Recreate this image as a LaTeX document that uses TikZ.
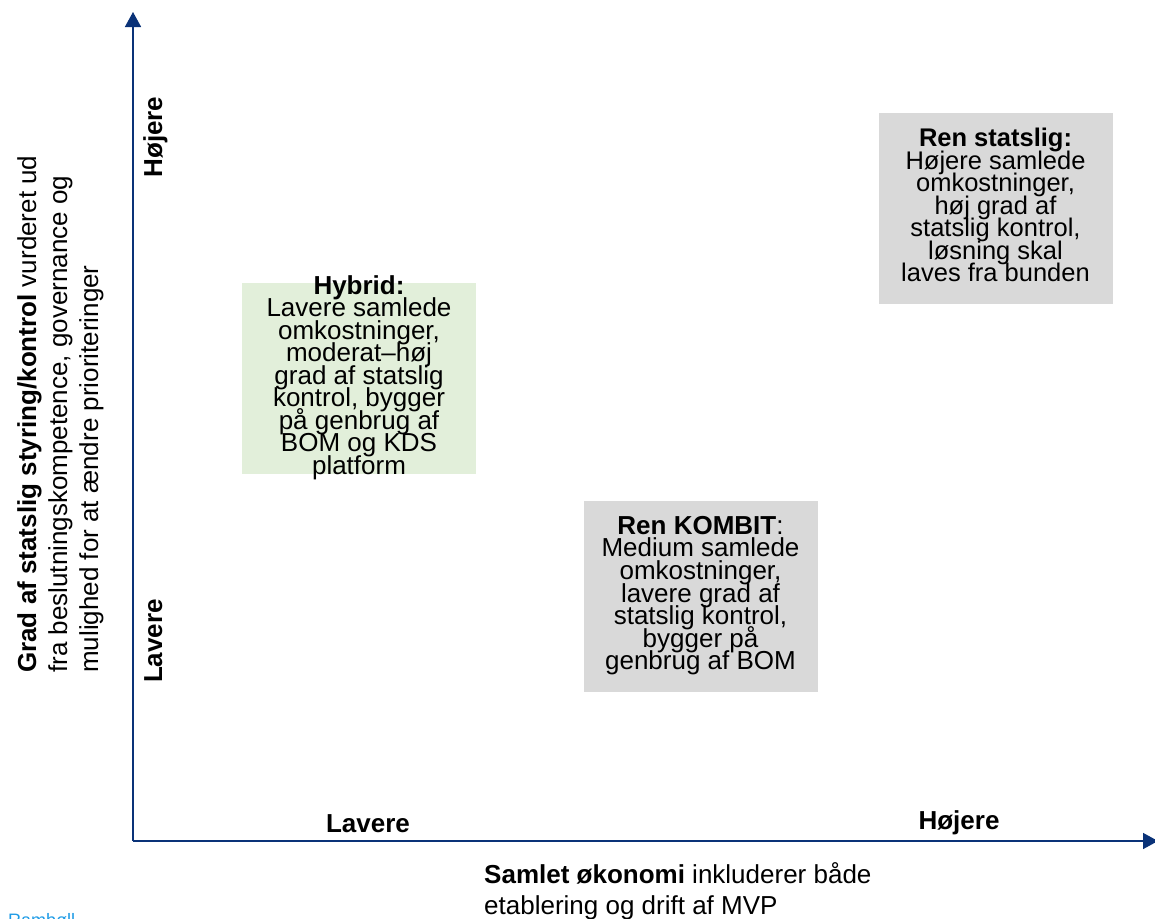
\documentclass[tikz,border=0pt]{standalone}
\usepackage{fontspec}
\setmainfont{Liberation Sans}
\usetikzlibrary{arrows.meta}
\definecolor{axisblue}{RGB}{10,50,120}
\definecolor{boxgreen}{RGB}{226,239,218}
\definecolor{boxgray}{RGB}{217,217,217}
\definecolor{rblue}{RGB}{30,155,230}
\newcommand\tightskip{\lineskiplimit=-100pt\relax\lineskip=0pt\relax}
\tikzset{
  axis/.style={draw=axisblue, line width=1.6pt, -{Triangle[width=16pt,length=15pt]}},
  qbox/.style={minimum width=234pt, minimum height=191pt, inner sep=0pt, outer sep=0pt},
  qtext/.style={align=center, inner sep=0pt, anchor=north},
  axlabel/.style={font=\fontsize{26pt}{31pt}\selectfont\bfseries, inner sep=0pt, anchor=base},
}
\begin{document}
\begin{tikzpicture}[x=1pt,y=-1pt]
\useasboundingbox (0,0) rectangle (1155,918);
% axes
\coordinate (O) at (133,841);
\coordinate (ytop) at (133,12);
\coordinate (xend) at (1158,841);
\draw[axis] (O) -- (ytop);
\draw[axis] (O) -- (xend);
% boxes
\node[qbox, fill=boxgreen] (hybbox) at (359,378) {};
\node[qbox, fill=boxgray] (statbox) at (995.5,208.5) {};
\node[qbox, fill=boxgray] (kombox) at (700.5,596.5) {};
\node[qtext, font=\fontsize{26pt}{22.5pt}\selectfont\tightskip] (hybtxt) at (359,275)
  {\textbf{Hybrid:}\\Lavere samlede\\omkostninger,\\moderat–høj\\grad af statslig\\kontrol, bygger\\på genbrug af\\BOM og KDS\\platform};
\node[qtext, font=\fontsize{25.5pt}{22.5pt}\selectfont\tightskip] (stattxt) at (995.5,128)
  {\textbf{Ren statslig:}\\Højere samlede\\omkostninger,\\høj grad af\\statslig kontrol,\\løsning skal\\laves fra bunden};
\node[qtext, font=\fontsize{26pt}{22.6pt}\selectfont\tightskip] (komtxt) at (700.5,516)
  {\textbf{Ren KOMBIT}:\\Medium samlede\\omkostninger,\\lavere grad af\\statslig kontrol,\\bygger på\\genbrug af BOM};
% axis labels
\node[axlabel] (xlow) at (368,832) {Lavere};
\node[axlabel] (xhigh) at (959,829) {Højere};
\node[axlabel, rotate=90] (yhigh) at (162,137) {Højere};
\node[axlabel, rotate=90] (ylow) at (162,641) {Lavere};
% axis titles
\node[rotate=90, anchor=north west, align=left, inner sep=0pt,
      font=\fontsize{26pt}{31pt}\selectfont] (ytitle) at (17,673)
  {\textbf{Grad af statslig styring/kontrol} vurderet ud\\fra beslutningskompetence, governance og\\mulighed for at ændre prioriteringer};
\node[anchor=north west, align=left, inner sep=0pt,
      font=\fontsize{26pt}{31pt}\selectfont] (xtitle) at (484,862)
  {\textbf{Samlet økonomi} inkluderer både\\etablering og drift af MVP};
\node[anchor=base west, inner sep=0pt, text=rblue,
      font=\fontsize{18pt}{20pt}\selectfont] (logo) at (8,926) {Rambøll};
\end{tikzpicture}
\end{document}
